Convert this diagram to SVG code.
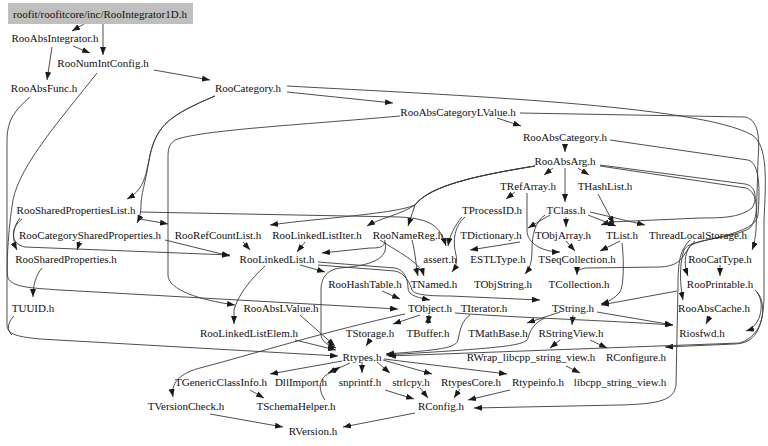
<svg xmlns="http://www.w3.org/2000/svg" width="768" height="446" viewBox="0 0 768 446">
<defs>
<marker id="a" viewBox="0 0 8 6" refX="8" refY="3" markerWidth="8" markerHeight="6" markerUnits="userSpaceOnUse" orient="auto"><path d="M0,0 L8,3 L0,6 z" fill="#1a1a1a"/></marker>
<marker id="s" viewBox="0 0 8 6" refX="0" refY="3" markerWidth="8" markerHeight="6" markerUnits="userSpaceOnUse" orient="auto"><path d="M8,0 L0,3 L8,6 z" fill="#1a1a1a"/></marker>
</defs>
<style>
text{font-family:"Liberation Serif","Times New Roman",serif;font-size:11px;fill:#111;text-anchor:middle}
#edges path{fill:none;stroke:#3a3a3a;stroke-width:0.9;marker-end:url(#a)}
</style>
<rect width="768" height="446" fill="#fff"/>
<g id="edges">
<path d="M84,24 L72,31"/>
<path d="M103,24 L103,55"/>
<path d="M73,46 L90,53"/>
<path d="M52,47 L47,80"/>
<path d="M154,70 L210,80"/>
<path d="M97,73 C60,120 20,165 13,200 C8,230 6,270 8,278 C12,287 30,288 60,290 L398,309"/>
<path d="M30,97 C15,110 7,120 7,140 L7,325 C7,335 20,337 40,339 L338,356"/>
<path d="M14,316 C8,322 6,330 12,335" style="marker-end:none"/>
<path d="M215,96 C170,115 157,125 150,155 C145,180 143,190 127,199"/>
<path d="M215,96 C170,115 157,125 150,155 C145,185 141,195 141,205 C141,212 140,217 137,223"/>
<path d="M287,92 L393,103"/>
<path d="M287,86 C450,95 700,105 752,135 C768,145 766,180 764,220 L764,300 C762,330 755,343 735,344 L665,347"/>
<path d="M520,113 L745,117 C758,120 760,135 758,160 L756,230 C755,240 754,245 752,250"/>
<path d="M610,140 L748,160 C760,163 760,190 758,215 C756,235 700,238 690,246 C684,255 684,265 688,276"/>
<path d="M600,165 L745,184 C757,186 757,200 752,208 C740,218 720,218 700,218 L610,222 L601,225"/>
<path d="M600,166 L746,188 C758,192 760,215 750,228 C730,240 690,238 684,250 C679,265 680,285 683,300"/>
<path d="M497,118 L521,126"/>
<path d="M565,144 L565,152"/>
<path d="M553,168 L544,175"/>
<path d="M578,168 L589,175"/>
<path d="M565,168 L565,202"/>
<path d="M515,192 L506,199"/>
<path d="M527,193 L527,230 C527,245 545,252 560,252"/>
<path d="M550,215 L528,228"/>
<path d="M566,217 L566,227"/>
<path d="M588,215 L616,226"/>
<path d="M590,212 L645,225"/>
<path d="M598,194 L614,224"/>
<path d="M545,215 C535,222 532,235 532,250 C532,262 530,268 525,274"/>
<path d="M566,241 L575,251"/>
<path d="M620,241 L600,251"/>
<path d="M520,242 L470,250"/>
<path d="M622,243 C624,260 624,285 620,292 C615,298 608,302 601,304"/>
<path d="M695,241 C683,250 686,266 660,267 L585,268 C579,269 577,271 577,275"/>
<path d="M690,240 C680,250 678,262 678,285 L676,385 C674,400 660,404 620,405 L474,408"/>
<path d="M720,265 L720,276"/>
<path d="M710,316 L706,324"/>
<path d="M755,290 C766,300 762,326 746,331"/>
<path d="M677,291 L601,305"/>
<path d="M757,292 C768,305 764,335 740,343 L388,356"/>
<path d="M465,217 C455,225 452,240 456,255 C458,262 455,268 452,272"/>
<path d="M462,217 C455,225 450,235 448,246"/>
<path d="M140,212 L400,217 C430,219 440,225 446,246"/>
<path d="M412,240 C416,255 416,268 418,276"/>
<path d="M380,240 C398,252 420,262 424,276"/>
<path d="M535,166 C480,175 430,185 415,205 L408,226"/>
<path d="M535,166 C480,175 430,185 415,205 C400,215 380,218 367,226"/>
<path d="M535,166 C480,175 430,185 415,205 C395,214 320,218 270,225"/>
<path d="M305,242 L297,252"/>
<path d="M385,240 C385,248 378,248 370,248 L322,253"/>
<path d="M385,242 C388,255 380,265 340,268 C325,270 321,280 321,290 L321,335 C322,342 328,345 336,348"/>
<path d="M22,219 C10,228 10,244 25,247 L230,255"/>
<path d="M20,218 C12,228 12,240 17,250"/>
<path d="M80,241 L77,250"/>
<path d="M165,240 L230,256"/>
<path d="M140,219 L168,224"/>
<path d="M243,242 L250,250"/>
<path d="M42,268 C36,275 33,285 33,297"/>
<path d="M400,116 C300,125 200,130 175,140 C168,145 168,150 168,160 L168,275 C168,290 200,300 235,305"/>
<path d="M300,265 L325,272"/>
<path d="M318,262 L395,268 C405,270 408,280 408,288 C408,296 420,298 430,300"/>
<path d="M318,265 L395,271 C405,273 410,283 412,290 C414,295 430,296 450,296 L540,300"/>
<path d="M382,291 L400,299"/>
<path d="M265,266 C250,280 238,295 234,310 L234,324"/>
<path d="M300,315 L335,346"/>
<path d="M295,340 L336,350"/>
<path d="M370,340 L366,346"/>
<path d="M420,315 L393,324"/>
<path d="M429,315 L428,324" style="marker-start:url(#s)"/>
<path d="M470,315 C462,320 460,330 458,340 C456,348 440,350 386,354"/>
<path d="M545,318 C535,322 530,330 528,338 C526,346 500,348 386,355"/>
<path d="M560,312 L527,323"/>
<path d="M573,315 L572,325"/>
<path d="M560,340 L550,348"/>
<path d="M590,340 L607,348"/>
<path d="M566,366 L580,373"/>
<path d="M597,312 L673,325"/>
<path d="M455,313 C520,318 600,320 673,325"/>
<path d="M405,314 C330,330 250,355 200,368 C185,372 170,380 173,397"/>
<path d="M210,414 L283,427"/>
<path d="M415,413 L343,427"/>
<path d="M342,361 L270,374"/>
<path d="M250,390 L264,398"/>
<path d="M350,363 L328,373"/>
<path d="M325,400 C318,390 318,378 330,373 L340,367"/>
<path d="M362,362 L362,373"/>
<path d="M377,362 L390,373"/>
<path d="M383,360 L432,374"/>
<path d="M384,359 L507,374"/>
<path d="M385,390 L414,399"/>
<path d="M420,388 L428,398"/>
<path d="M460,389 L454,398"/>
<path d="M510,390 L468,400"/>
</g>
<g id="n0"><rect x="8" y="3" width="185" height="21" fill="#bfbfbf"/><text x="100" y="18">roofit/roofitcore/inc/RooIntegrator1D.h</text></g>
<g id="n1"><text x="55" y="42">RooAbsIntegrator.h</text></g>
<g id="n2"><text x="103" y="67">RooNumIntConfig.h</text></g>
<g id="n3"><text x="44" y="92">RooAbsFunc.h</text></g>
<g id="n4"><text x="248" y="92">RooCategory.h</text></g>
<g id="n5"><text x="458" y="116">RooAbsCategoryLValue.h</text></g>
<g id="n6"><text x="565" y="141">RooAbsCategory.h</text></g>
<g id="n7"><text x="565" y="165">RooAbsArg.h</text></g>
<g id="n8"><text x="528" y="190">TRefArray.h</text></g>
<g id="n9"><text x="605" y="190">THashList.h</text></g>
<g id="n10"><text x="492" y="214">TProcessID.h</text></g>
<g id="n11"><text x="566" y="214">TClass.h</text></g>
<g id="n12"><text x="76" y="214">RooSharedPropertiesList.h</text></g>
<g id="n13"><text x="90" y="239">RooCategorySharedProperties.h</text></g>
<g id="n14"><text x="218" y="239">RooRefCountList.h</text></g>
<g id="n15"><text x="317" y="239">RooLinkedListIter.h</text></g>
<g id="n16"><text x="408" y="239">RooNameReg.h</text></g>
<g id="n17"><text x="491" y="239">TDictionary.h</text></g>
<g id="n18"><text x="563" y="239">TObjArray.h</text></g>
<g id="n19"><text x="622" y="239">TList.h</text></g>
<g id="n20"><text x="698" y="239">ThreadLocalStorage.h</text></g>
<g id="n21"><text x="66" y="263">RooSharedProperties.h</text></g>
<g id="n22"><text x="277" y="263">RooLinkedList.h</text></g>
<g id="n23"><text x="440" y="263">assert.h</text></g>
<g id="n24"><text x="498" y="263">ESTLType.h</text></g>
<g id="n25"><text x="577" y="263">TSeqCollection.h</text></g>
<g id="n26"><text x="720" y="263">RooCatType.h</text></g>
<g id="n27"><text x="365" y="288">RooHashTable.h</text></g>
<g id="n28"><text x="434" y="288">TNamed.h</text></g>
<g id="n29"><text x="503" y="288">TObjString.h</text></g>
<g id="n30"><text x="579" y="288">TCollection.h</text></g>
<g id="n31"><text x="720" y="288">RooPrintable.h</text></g>
<g id="n32"><text x="33" y="312">TUUID.h</text></g>
<g id="n33"><text x="281" y="312">RooAbsLValue.h</text></g>
<g id="n34"><text x="430" y="312">TObject.h</text></g>
<g id="n35"><text x="484" y="312">TIterator.h</text></g>
<g id="n36"><text x="573" y="312">TString.h</text></g>
<g id="n37"><text x="714" y="312">RooAbsCache.h</text></g>
<g id="n38"><text x="249" y="337">RooLinkedListElem.h</text></g>
<g id="n39"><text x="370" y="337">TStorage.h</text></g>
<g id="n40"><text x="428" y="337">TBuffer.h</text></g>
<g id="n41"><text x="498" y="337">TMathBase.h</text></g>
<g id="n42"><text x="571" y="337">RStringView.h</text></g>
<g id="n43"><text x="702" y="337">Riosfwd.h</text></g>
<g id="n44"><text x="362" y="361">Rtypes.h</text></g>
<g id="n45"><text x="531" y="361">RWrap_libcpp_string_view.h</text></g>
<g id="n46"><text x="636" y="361">RConfigure.h</text></g>
<g id="n47"><text x="221" y="386">TGenericClassInfo.h</text></g>
<g id="n48"><text x="301" y="386">DllImport.h</text></g>
<g id="n49"><text x="360" y="386">snprintf.h</text></g>
<g id="n50"><text x="411" y="386">strlcpy.h</text></g>
<g id="n51"><text x="471" y="386">RtypesCore.h</text></g>
<g id="n52"><text x="538" y="386">Rtypeinfo.h</text></g>
<g id="n53"><text x="620" y="386">libcpp_string_view.h</text></g>
<g id="n54"><text x="186" y="410">TVersionCheck.h</text></g>
<g id="n55"><text x="296" y="410">TSchemaHelper.h</text></g>
<g id="n56"><text x="441" y="410">RConfig.h</text></g>
<g id="n57"><text x="313" y="435">RVersion.h</text></g>
</svg>
